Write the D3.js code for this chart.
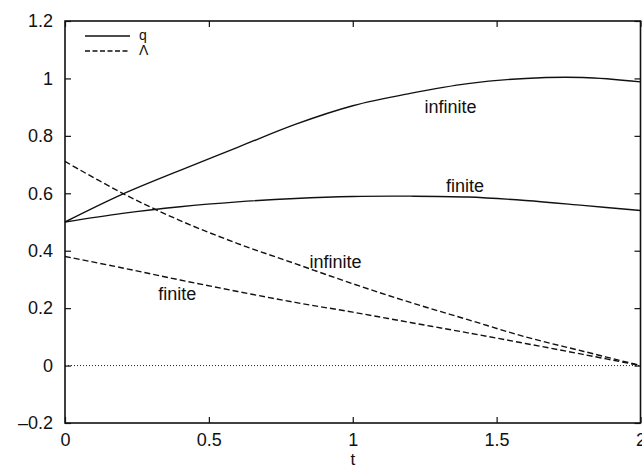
<!DOCTYPE html>
<html>
<head>
<meta charset="utf-8">
<script src="https://cdn.jsdelivr.net/npm/d3@7"></script>
<style>
  body { margin: 0; background: #fff; }
  svg text { font-family: "Liberation Sans", Arial, Helvetica, sans-serif; fill: #111; }
</style>
</head>
<body>
<div id="chart"></div>
<script>
const tVals = [0, 0.2, 0.4, 0.6, 0.8, 1.0, 1.2, 1.4, 1.6, 1.8, 2.0];
const qInfinite = [0.50, 0.597, 0.68, 0.76, 0.84, 0.905, 0.948, 0.982, 1.0, 1.003, 0.988];
const qFinite = [0.50, 0.53, 0.553, 0.57, 0.582, 0.589, 0.590, 0.587, 0.575, 0.558, 0.540];
const lamInfinite = [0.711, 0.600, 0.505, 0.425, 0.355, 0.285, 0.22, 0.16, 0.10, 0.05, 0.0];
const lamFinite = [0.380, 0.340, 0.298, 0.258, 0.22, 0.186, 0.150, 0.114, 0.077, 0.039, 0.0];
const xTicks = [0, 0.5, 1, 1.5, 2];
const yTicks = [-0.2, 0, 0.2, 0.4, 0.6, 0.8, 1, 1.2];

const width = 642, height = 469;
const plotL = 65, plotR = 640.5, plotT = 21, plotB = 423;

const x = d3.scaleLinear().domain([0, 2]).range([plotL, plotR]);
const y = d3.scaleLinear().domain([-0.2, 1.2]).range([plotB, plotT]);

const svg = d3.select("#chart")
  .append("svg")
  .attr("width", width)
  .attr("height", height);

const fmt = d => (d < 0 ? "\u2013" + Math.abs(d) : String(d));

// zero line
svg.append("line")
  .attr("x1", x(0)).attr("x2", x(2))
  .attr("y1", y(0)).attr("y2", y(0))
  .attr("stroke", "#222").attr("stroke-width", 1)
  .attr("stroke-dasharray", "1,2");

// axes with inward ticks on all four sides
const tickLen = 6;
svg.append("g")
  .attr("transform", `translate(0,${plotB})`)
  .call(d3.axisBottom(x).tickValues(xTicks).tickSize(-tickLen).tickPadding(10).tickFormat(fmt));
svg.append("g")
  .attr("transform", `translate(0,${plotT})`)
  .call(d3.axisTop(x).tickValues(xTicks).tickSize(-tickLen).tickFormat(""));
svg.append("g")
  .attr("transform", `translate(${plotL},0)`)
  .call(d3.axisLeft(y).tickValues(yTicks).tickSize(-tickLen).tickPadding(12).tickFormat(fmt));
svg.append("g")
  .attr("transform", `translate(${plotR},0)`)
  .call(d3.axisRight(y).tickValues(yTicks).tickSize(-tickLen).tickFormat(""));

svg.selectAll(".domain").remove();
svg.selectAll(".tick line").attr("stroke", "#111").attr("stroke-width", 1.2);
svg.selectAll(".tick text")
  .attr("font-size", 18)
  .attr("font-family", "Liberation Sans, Arial, sans-serif")
  .attr("fill", "#111");

// frame
svg.append("rect")
  .attr("x", plotL).attr("y", plotT)
  .attr("width", plotR - plotL).attr("height", plotB - plotT)
  .attr("fill", "none").attr("stroke", "#111").attr("stroke-width", 1.6);

// curves
const line = d3.line()
  .x((d, i) => x(tVals[i]))
  .y(d => y(d))
  .curve(d3.curveCatmullRom);

const series = [
  { vals: qInfinite, dash: null },
  { vals: qFinite, dash: null },
  { vals: lamInfinite, dash: "6,3" },
  { vals: lamFinite, dash: "6,3" }
];

svg.selectAll("path.curve")
  .data(series)
  .enter()
  .append("path")
  .attr("class", "curve")
  .attr("d", d => line(d.vals))
  .attr("fill", "none")
  .attr("stroke", "#111")
  .attr("stroke-width", 1.4)
  .attr("stroke-dasharray", d => d.dash);

// curve labels
const labels = [
  { text: "infinite", t: 1.34, v: 0.88 },
  { text: "finite", t: 1.39, v: 0.605 },
  { text: "infinite", t: 0.94, v: 0.34 },
  { text: "finite", t: 0.39, v: 0.229 }
];
svg.selectAll("text.lbl")
  .data(labels)
  .enter()
  .append("text")
  .attr("class", "lbl")
  .attr("x", d => x(d.t))
  .attr("y", d => y(d.v))
  .attr("text-anchor", "middle")
  .attr("font-size", 18)
  .text(d => d.text);

// legend
const legend = [
  { name: "q", dash: null, ly: 36 },
  { name: "\u039B", dash: "5,2.5", ly: 51 }
];
const lg = svg.selectAll("g.leg")
  .data(legend)
  .enter()
  .append("g");
lg.append("line")
  .attr("x1", 85).attr("x2", 130)
  .attr("y1", d => d.ly).attr("y2", d => d.ly)
  .attr("stroke", "#111").attr("stroke-width", 1.3)
  .attr("stroke-dasharray", d => d.dash);
lg.append("text")
  .attr("x", 139)
  .attr("y", d => d.ly + 4)
  .attr("font-size", 14)
  .text(d => d.name);

// axis title
svg.append("text")
  .attr("x", x(1))
  .attr("y", 465)
  .attr("text-anchor", "middle")
  .attr("font-size", 17)
  .text("t");
</script>
</body>
</html>
